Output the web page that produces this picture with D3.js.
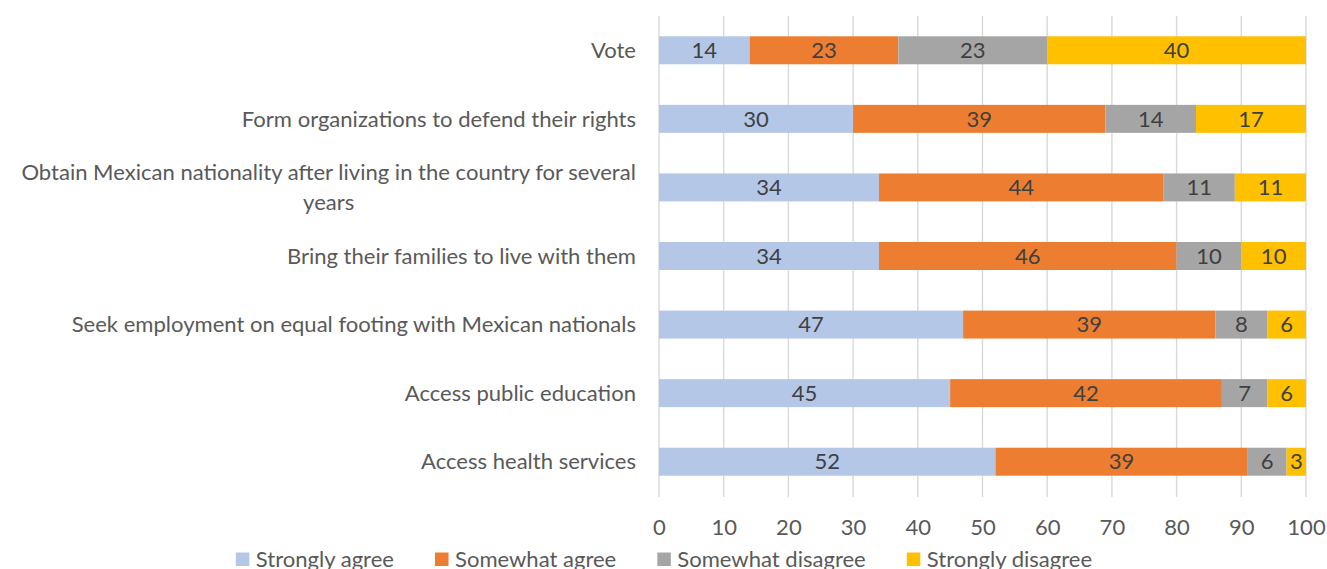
<!DOCTYPE html>
<html>
<head>
<meta charset="utf-8">
<script src="https://cdn.jsdelivr.net/npm/d3@7"></script>
<style>
  html, body { margin: 0; padding: 0; background: #fff; overflow: hidden; }
  svg { display: block; }
  text { font-family: Lato, "Open Sans", sans-serif; }
</style>
</head>
<body>
<svg id="chart" width="1327" height="569"></svg>
<script>
// Survey statements (top to bottom)
const categories = [
  "Vote",
  "Form organizations to defend their rights",
  "Obtain Mexican nationality after living in the country for several years",
  "Bring their families to live with them",
  "Seek employment on equal footing with Mexican nationals",
  "Access public education",
  "Access health services"
];
// Wrapped lines for long category names
const categoryLines = {
  "Obtain Mexican nationality after living in the country for several years":
    ["Obtain Mexican nationality after living in the country for several", "years"]
};

const seriesNames = ["Strongly agree", "Somewhat agree", "Somewhat disagree", "Strongly disagree"];
const stronglyAgree    = [14, 30, 34, 34, 47, 45, 52];
const somewhatAgree    = [23, 39, 44, 46, 39, 42, 39];
const somewhatDisagree = [23, 14, 11, 10,  8,  7,  6];
const stronglyDisagree = [40, 17, 11, 10,  6,  6,  3];
const xTicks = [0, 10, 20, 30, 40, 50, 60, 70, 80, 90, 100];

const colors = ["#B4C7E7", "#ED7D31", "#A5A5A5", "#FFC000"];

const rows = categories.map((c, i) => ({
  category: c,
  "Strongly agree": stronglyAgree[i],
  "Somewhat agree": somewhatAgree[i],
  "Somewhat disagree": somewhatDisagree[i],
  "Strongly disagree": stronglyDisagree[i]
}));

const svg = d3.select("#chart");
const FS = 21.5;           // font size
const labelColor = "#595959";
const valueColor = "#404040";

// Horizontal compression so text widths follow a narrow UI face
const probe = svg.append("text").attr("font-size", FS).text("Access health services");
const sx = 215 / probe.node().getComputedTextLength();
probe.remove();

const x = d3.scaleLinear().domain([0, 100]).range([659, 1306]);
const y = d3.scaleBand().domain(categories).range([16, 496])
  .paddingInner(0.592).paddingOuter(0.296);

// Vertical gridlines
svg.append("g").selectAll("line").data(xTicks).join("line")
  .attr("x1", d => x(d)).attr("x2", d => x(d))
  .attr("y1", 16).attr("y2", 497)
  .attr("stroke", "#d9d9d9").attr("stroke-width", 1.4);

// Stacked segments
const stack = d3.stack().keys(seriesNames)(rows);
const layers = svg.append("g").selectAll("g").data(stack).join("g")
  .attr("fill", (d, i) => colors[i]);
layers.selectAll("rect").data(d => d).join("rect")
  .attr("x", d => x(d[0]))
  .attr("width", d => x(d[1]) - x(d[0]))
  .attr("y", d => y(d.data.category))
  .attr("height", y.bandwidth());

// Value labels centred in each segment
stack.forEach(layer => {
  svg.append("g").selectAll("text").data(layer).join("text")
    .attr("transform", d =>
      `translate(${(x(d[0]) + x(d[1])) / 2},${y(d.data.category) + y.bandwidth() / 2}) scale(${sx},1)`)
    .attr("text-anchor", "middle")
    .attr("dy", "0.36em")
    .attr("font-size", FS)
    .attr("fill", valueColor)
    .text(d => d[1] - d[0]);
});

// Category labels
const lineH = 30;
const catG = svg.append("g");
categories.forEach(c => {
  const lines = categoryLines[c] || [c];
  const cy = y(c) + y.bandwidth() / 2;
  if (lines.length === 1) {
    catG.append("text")
      .attr("transform", `translate(636,${cy}) scale(${sx},1)`)
      .attr("text-anchor", "end").attr("dy", "0.36em")
      .attr("font-size", FS).attr("fill", labelColor).text(lines[0]);
  } else {
    // wrapped lines are centred on the widest line, right edge at 636
    const t = catG.append("text").attr("font-size", FS).text(lines[0]);
    const w = t.node().getComputedTextLength() * sx;
    t.remove();
    const cx = 636 - w / 2;
    lines.forEach((ln, k) => {
      catG.append("text")
        .attr("transform", `translate(${cx},${cy + (k - (lines.length - 1) / 2) * lineH}) scale(${sx},1)`)
        .attr("text-anchor", "middle").attr("dy", "0.36em")
        .attr("font-size", FS).attr("fill", labelColor).text(ln);
    });
  }
});

// X axis tick labels
const axis = d3.axisBottom(x).tickValues(xTicks).tickSize(0).tickPadding(0);
const axG = svg.append("g").attr("transform", "translate(0,527)").call(axis);
axG.select(".domain").remove();
axG.selectAll(".tick text")
  .attr("x", 0).attr("y", 0).attr("dy", "0.36em")
  .attr("font-size", FS).attr("fill", labelColor)
  .attr("font-family", "Lato, 'Open Sans', sans-serif")
  .attr("transform", `scale(${sx},1)`);

// Legend
const legG = svg.append("g");
const sq = 13.5, gapSq = 6.5, gapItem = 41;
const widths = seriesNames.map(n => {
  const t = legG.append("text").attr("font-size", FS).text(n);
  const w = t.node().getComputedTextLength() * sx;
  t.remove();
  return w;
});
const total = d3.sum(widths) + seriesNames.length * (sq + gapSq) + (seriesNames.length - 1) * gapItem;
let lx = 664 - total / 2;
const ly = 559.5;
seriesNames.forEach((n, i) => {
  legG.append("rect").attr("x", lx).attr("y", ly - 7).attr("width", sq).attr("height", sq)
    .attr("fill", colors[i]);
  legG.append("text")
    .attr("transform", `translate(${lx + sq + gapSq},${ly}) scale(${sx},1)`)
    .attr("dy", "0.36em").attr("font-size", FS).attr("fill", labelColor).text(n);
  lx += sq + gapSq + widths[i] + gapItem;
});
</script>
</body>
</html>
